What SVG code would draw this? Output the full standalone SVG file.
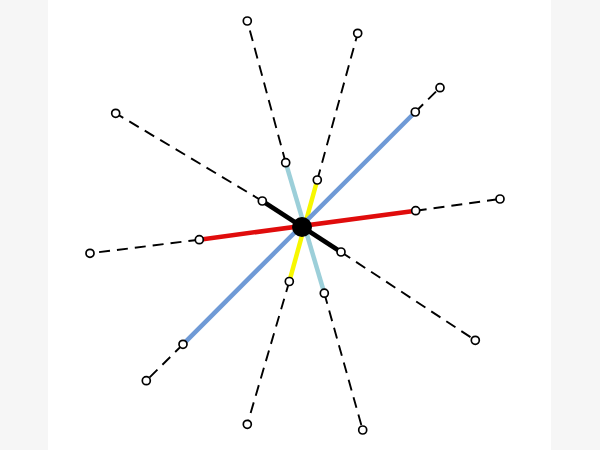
<svg xmlns="http://www.w3.org/2000/svg" width="600" height="450" viewBox="0 0 600 450">
<style>
.dash{stroke:#000;stroke-width:1.9;stroke-dasharray:11 7;fill:none}
.seg{stroke-width:4.5;fill:none;stroke-linecap:butt}
.red{stroke:#e00c0c}
.blue{stroke:#6f9ad6}
.lblue{stroke:#9ccfd9}
.yel{stroke:#f7f700}
.blk{stroke:#000}
.node{fill:#fff;stroke:#000;stroke-width:1.7}
</style>
<rect x="0" y="0" width="600" height="450" fill="#f6f6f6"/>
<rect x="48" y="0" width="503" height="450" fill="#ffffff"/>
<g id="connectors">
  <line class="dash" x1="285.7" y1="162.7" x2="247.3" y2="21"/>
  <line class="dash" x1="317.3" y1="180" x2="357.7" y2="33.3"/>
  <line class="dash" x1="262.3" y1="201" x2="115.7" y2="113.3"/>
  <line class="dash" x1="415.3" y1="112" x2="440" y2="87.7"/>
  <line class="dash" x1="415.7" y1="210.7" x2="500" y2="199"/>
  <line class="dash" x1="199.3" y1="239.7" x2="90" y2="253.3"/>
  <line class="dash" x1="183" y1="344.3" x2="146.3" y2="380.7"/>
  <line class="dash" x1="289.3" y1="281.5" x2="247.3" y2="424.3"/>
  <line class="dash" x1="341" y1="252" x2="475.3" y2="340.3"/>
  <line class="dash" x1="324.3" y1="293.2" x2="362.7" y2="430"/>
  <line class="seg lblue" x1="285.7" y1="162.7" x2="324.3" y2="293.2"/>
  <line class="seg yel" x1="317.3" y1="180" x2="289.3" y2="281.5"/>
  <line class="seg blue" x1="415.3" y1="112" x2="183" y2="344.3"/>
  <line class="seg red" x1="415.7" y1="210.7" x2="199.3" y2="239.7"/>
  <line class="seg blk" x1="262.3" y1="201" x2="341" y2="252"/>
</g>
<g id="center"><circle cx="302" cy="227" r="10" fill="#000"/></g>
<g id="n1"><circle class="node" cx="285.7" cy="162.7" r="4"/></g>
<g id="n2"><circle class="node" cx="247.3" cy="21" r="4"/></g>
<g id="n3"><circle class="node" cx="317.3" cy="180" r="4"/></g>
<g id="n4"><circle class="node" cx="357.7" cy="33.3" r="4"/></g>
<g id="n5"><circle class="node" cx="262.3" cy="201" r="4"/></g>
<g id="n6"><circle class="node" cx="115.7" cy="113.3" r="4"/></g>
<g id="n7"><circle class="node" cx="415.3" cy="112" r="4"/></g>
<g id="n8"><circle class="node" cx="440" cy="87.7" r="4"/></g>
<g id="n9"><circle class="node" cx="415.7" cy="210.7" r="4"/></g>
<g id="n10"><circle class="node" cx="500" cy="199" r="4"/></g>
<g id="n11"><circle class="node" cx="199.3" cy="239.7" r="4"/></g>
<g id="n12"><circle class="node" cx="90" cy="253.3" r="4"/></g>
<g id="n13"><circle class="node" cx="183" cy="344.3" r="4"/></g>
<g id="n14"><circle class="node" cx="146.3" cy="380.7" r="4"/></g>
<g id="n15"><circle class="node" cx="289.3" cy="281.5" r="4"/></g>
<g id="n16"><circle class="node" cx="247.3" cy="424.3" r="4"/></g>
<g id="n17"><circle class="node" cx="341" cy="252" r="4"/></g>
<g id="n18"><circle class="node" cx="475.3" cy="340.3" r="4"/></g>
<g id="n19"><circle class="node" cx="324.3" cy="293.2" r="4"/></g>
<g id="n20"><circle class="node" cx="362.7" cy="430" r="4"/></g>
</svg>
